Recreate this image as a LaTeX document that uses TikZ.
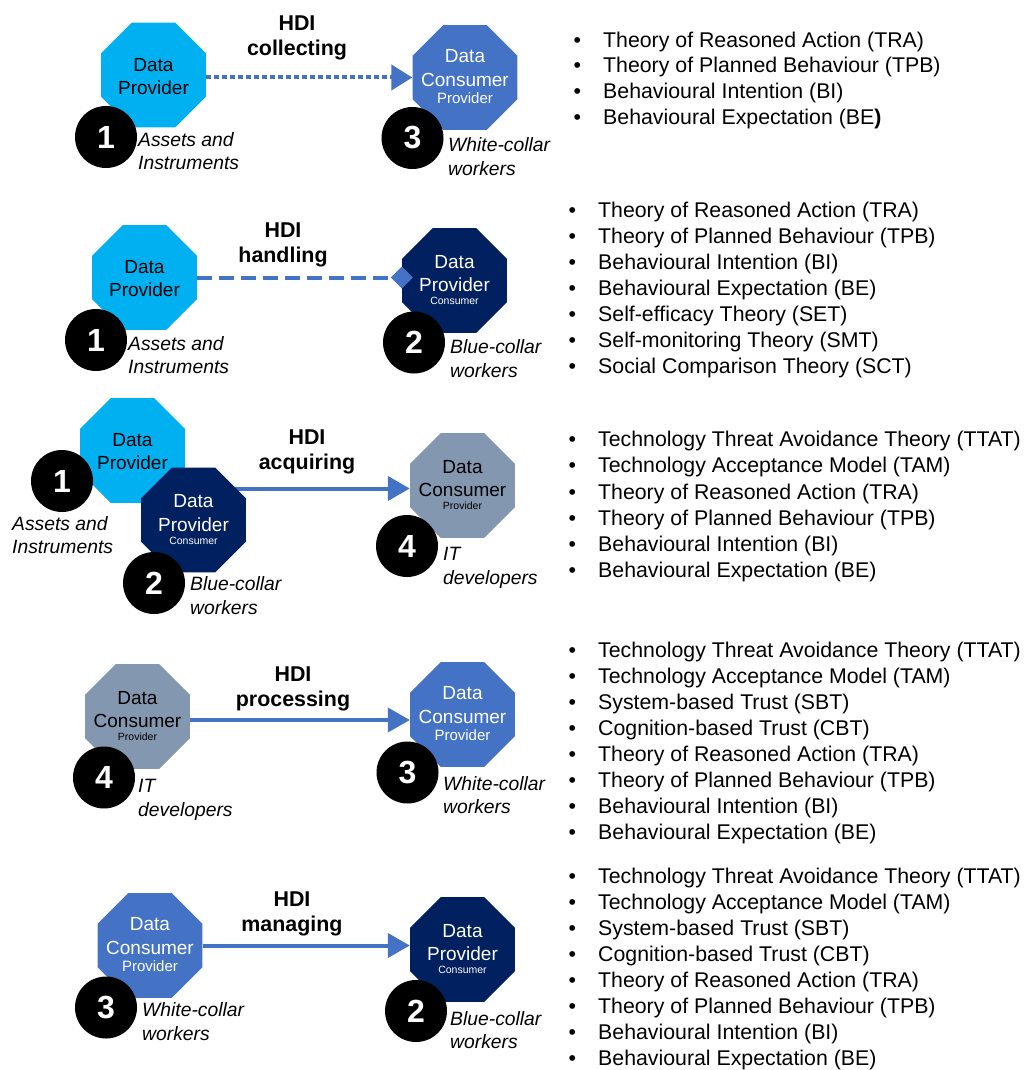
\documentclass[tikz,border=0pt]{standalone}
\usepackage{fontspec}
\setmainfont{Liberation Sans}
\usetikzlibrary{shapes.geometric,arrows.meta,calc}

\definecolor{cLight}{HTML}{00B0F0}
\definecolor{cMid}{HTML}{4472C4}
\definecolor{cNavy}{HTML}{002060}
\definecolor{cGray}{HTML}{8497B0}

% two text lines inside an octagon
\newcommand\octtwo[4]{%
  \node[otxt,text=#2] (#1-l1) at ($(#1)+(0,-3.7)$) {#3};
  \node[otxt,text=#2] (#1-l2) at ($(#1)+(0,19.3)$) {#4};}
% three lines, large subtitle
\newcommand\octbig[5]{%
  \node[otxt,text=#2] (#1-l1) at ($(#1)+(0,-15.2)$) {#3};
  \node[otxt,text=#2] (#1-l2) at ($(#1)+(0,9.3)$) {#4};
  \node[osubL,text=#2] (#1-l3) at ($(#1)+(0,25.9)$) {#5};}
% three lines, small subtitle
\newcommand\octsmall[5]{%
  \node[otxt,text=#2] (#1-l1) at ($(#1)+(0,-12.2)$) {#3};
  \node[otxt,text=#2] (#1-l2) at ($(#1)+(0,11.3)$) {#4};
  \node[osubS,text=#2] (#1-l3) at ($(#1)+(0,24.3)$) {#5};}
% bulleted list of theories
\newcommand\theorylist[5]{%
  \foreach \t [count=\i from 0] in {#5}
    \node[bul] (#1-\i) at ({#2},{#3+\i*#4}) {\llap{\makebox[29.7pt][l]{•}}\t};}

\begin{document}
\begin{tikzpicture}[x=1pt,y=-1pt,
  oct/.style={regular polygon, regular polygon sides=8, minimum size=113.6pt, inner sep=0pt, draw=none},
  otxt/.style={anchor=base, inner sep=0pt, font=\fontsize{19}{19}\selectfont},
  osubL/.style={anchor=base, inner sep=0pt, font=\fontsize{15}{15}\selectfont},
  osubS/.style={anchor=base, inner sep=0pt, font=\fontsize{10.5}{10.5}\selectfont},
  numc/.style={circle, fill=black, minimum size=62pt, inner sep=0pt, text=white,
    font=\bfseries\fontsize{32}{32}\selectfont},
  lab/.style={anchor=west, inner sep=0pt, align=left, font=\itshape\fontsize{19.3}{23.5}\selectfont},
  hdi/.style={inner sep=0pt, align=center, font=\bfseries\fontsize{21.4}{25}\selectfont},
  bul/.style={anchor=base west, inner sep=0pt, font=\fontsize{21.3}{25}\selectfont},
  cn/.style={draw=cMid, line width=4pt},
  tri/.style={-{Triangle[length=22pt,width=24pt]}}
]
\path[fill=white, use as bounding box] (0,0) rectangle (1035,1070);

% ---------- HDI collecting ----------
\node[oct,fill=cLight] (r1A) at (153.5,75) {};
\octtwo{r1A}{black}{Data}{Provider}
\node[oct,fill=cMid] (r1B) at (465,77.5) {};
\octbig{r1B}{white}{Data}{Consumer}{Provider}
\draw[cn, dash pattern=on 4.5pt off 3.5pt, -{Triangle[length=21pt,width=25pt]}]
  (r1A.0 |- r1B) -- (r1B.180);
\node[numc] (r1n1) at (106,137) {1};
\node[numc] (r1n3) at (412.5,138) {3};
\node[lab] (r1la) at (138,153.2) {\strut Assets and\\\strut Instruments};
\node[lab] (r1lb) at (448,158.7) {\strut White-collar\\\strut workers};
\node[hdi] (r1h) at (297,38.2) {\strut HDI\\\strut collecting};

% ---------- HDI handling ----------
\node[oct,fill=cLight] (r2A) at (144.5,277.5) {};
\octtwo{r2A}{black}{Data}{Provider}
\node[oct,fill=cNavy] (r2B) at (454.5,280.5) {};
\octsmall{r2B}{white}{Data}{Provider}{Consumer}
\draw[cn, dash pattern=on 15pt off 7pt, -{Diamond[length=22pt,width=22pt]}]
  (r2A.0) -- ($(r2B.180 |- r2A)+(11,0)$);
\node[numc] (r2n1) at (96,340) {1};
\node[numc] (r2n2) at (414,342.5) {2};
\node[lab] (r2la) at (128,357.2) {\strut Assets and\\\strut Instruments};
\node[lab] (r2lb) at (450,360.7) {\strut Blue-collar\\\strut workers};
\node[hdi] (r2h) at (283,245.2) {\strut HDI\\\strut handling};

% ---------- HDI acquiring ----------
\node[oct,fill=cGray] (r3G) at (462.5,485.5) {};
\octsmall{r3G}{black}{Data}{Consumer}{Provider}
\coordinate (r3s) at (193.5,488.5);
\draw[cn, tri] (r3s) -- (r3G.180 |- r3s);
\node[oct,fill=cLight] (r3A) at (132.5,450.5) {};
\octtwo{r3A}{black}{Data}{Provider}
\node[oct,fill=cNavy] (r3D) at (193.5,520) {};
\octsmall{r3D}{white}{Data}{Provider}{Consumer}
\node[numc] (r3n1) at (62,481) {1};
\node[numc] (r3n2) at (154,583) {2};
\node[numc] (r3n4) at (407,546) {4};
\node[lab] (r3la) at (12,537.2) {\strut Assets and\\\strut Instruments};
\node[lab] (r3lb) at (190,597.7) {\strut Blue-collar\\\strut workers};
\node[lab] (r3lc) at (443,567.7) {\strut IT\\\strut developers};
\node[hdi] (r3h) at (307,452.2) {\strut HDI\\\strut acquiring};

% ---------- HDI processing ----------
\node[oct,fill=cGray] (r4A) at (137.5,716.5) {};
\octsmall{r4A}{black}{Data}{Consumer}{Provider}
\node[oct,fill=cMid] (r4B) at (462.5,714.5) {};
\octbig{r4B}{white}{Data}{Consumer}{Provider}
\coordinate (r4y) at (300,720);
\draw[cn, tri] (r4A.0 |- r4y) -- (r4B.180 |- r4y);
\node[numc] (r4n4) at (104,777.5) {4};
\node[numc] (r4n3) at (407.5,772.5) {3};
\node[lab] (r4la) at (138,799.7) {\strut IT\\\strut developers};
\node[lab] (r4lb) at (443,797.2) {\strut White-collar\\\strut workers};
\node[hdi] (r4h) at (293,689.2) {\strut HDI\\\strut processing};

% ---------- HDI managing ----------
\node[oct,fill=cMid] (r5A) at (150,945.5) {};
\octbig{r5A}{white}{Data}{Consumer}{Provider}
\node[oct,fill=cNavy] (r5B) at (462.5,949.5) {};
\octsmall{r5B}{white}{Data}{Provider}{Consumer}
\draw[cn, tri] (r5A.0) -- (r5B.180 |- r5A);
\node[numc] (r5n3) at (106,1007.5) {3};
\node[numc] (r5n2) at (416,1011) {2};
\node[lab] (r5la) at (142,1023.7) {\strut White-collar\\\strut workers};
\node[lab] (r5lb) at (450,1032.2) {\strut Blue-collar\\\strut workers};
\node[hdi] (r5h) at (292,914.2) {\strut HDI\\\strut managing};

% ---------- theory lists ----------
\theorylist{t1}{603}{47.1}{25.8}{Theory of Reasoned Action (TRA),
  Theory of Planned Behaviour (TPB), Behavioural Intention (BI),
  Behavioural Expectation (BE\textbf{)}}
\theorylist{t2}{598}{217.6}{26}{Theory of Reasoned Action (TRA),
  Theory of Planned Behaviour (TPB), Behavioural Intention (BI),
  Behavioural Expectation (BE), Self-efficacy Theory (SET),
  Self-monitoring Theory (SMT), Social Comparison Theory (SCT)}
\theorylist{t3}{598}{446.6}{26.2}{Technology Threat Avoidance Theory (TTAT),
  Technology Acceptance Model (TAM), Theory of Reasoned Action (TRA),
  Theory of Planned Behaviour (TPB), Behavioural Intention (BI),
  Behavioural Expectation (BE)}
\theorylist{t4}{598}{657.6}{26}{Technology Threat Avoidance Theory (TTAT),
  Technology Acceptance Model (TAM), System-based Trust (SBT),
  Cognition-based Trust (CBT), Theory of Reasoned Action (TRA),
  Theory of Planned Behaviour (TPB), Behavioural Intention (BI),
  Behavioural Expectation (BE)}
\theorylist{t5}{598}{883.6}{26}{Technology Threat Avoidance Theory (TTAT),
  Technology Acceptance Model (TAM), System-based Trust (SBT),
  Cognition-based Trust (CBT), Theory of Reasoned Action (TRA),
  Theory of Planned Behaviour (TPB), Behavioural Intention (BI),
  Behavioural Expectation (BE)}
\end{tikzpicture}
\end{document}
